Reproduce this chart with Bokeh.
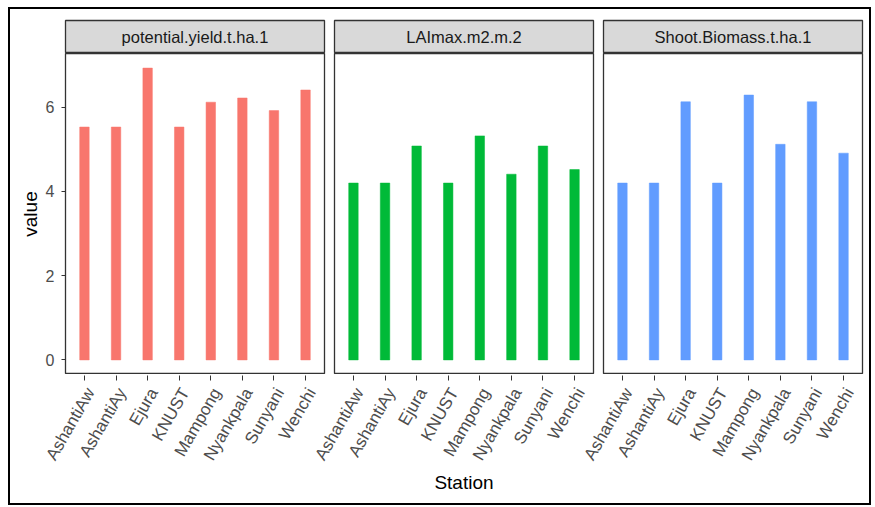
import math
from bokeh.plotting import figure
from bokeh.layouts import row, column
from bokeh.models import Range1d, FixedTicker, ColumnDataSource, Label, LinearAxis
from bokeh.embed import file_html
from bokeh.resources import INLINE

# Stations (x categories) shared by every facet
stations = ["AshantiAw", "AshantiAy", "Ejura", "KNUST", "Mampong", "Nyankpala", "Sunyani", "Wenchi"]

# Facet variables and their values per station
variables = ["potential.yield.t.ha.1", "LAImax.m2.m.2", "Shoot.Biomass.t.ha.1"]
potential_yield = [5.53, 5.53, 6.93, 5.53, 6.12, 6.22, 5.92, 6.41]
lai_max = [4.20, 4.20, 5.08, 4.20, 5.32, 4.41, 5.08, 4.52]
shoot_biomass = [4.20, 4.20, 6.13, 4.20, 6.29, 5.12, 6.13, 4.91]
y_ticks = [0, 2, 4, 6]

series = [potential_yield, lai_max, shoot_biomass]
colors = ["#F8766D", "#00BA38", "#619CFF"]

FONT = "Liberation Sans"
FRAME_W, FRAME_H, STRIP_H = 259, 321, 33
GAP = 10                       # white space between facets (px)
LEFT_PAD, RIGHT_PAD = 55, 7    # room for the y axis / right margin
TOP_PAD, BOTTOM_PAD = 11, 128
LABEL_NUDGE = 6                # rotated station names sit a little right of their tick

# shared y scale with ggplot-like 5% expansion
ymax = max(max(s) for s in series)
y_lo, y_hi = -0.05 * ymax, ymax * 1.05
xpos = list(range(1, len(stations) + 1))
x_lo, x_hi = 0.4, len(stations) + 0.6
px_per_unit = FRAME_W / (x_hi - x_lo)


def sides(k):
    left = LEFT_PAD if k == 0 else GAP // 2
    right = RIGHT_PAD if k == len(variables) - 1 else GAP // 2
    return left, right


def strip(title, k):
    left, right = sides(k)
    s = figure(width=left + FRAME_W + right, height=TOP_PAD + STRIP_H,
               x_range=Range1d(0, 1), y_range=Range1d(0, 1),
               output_backend="svg", toolbar_location=None,
               min_border_left=left, min_border_right=right,
               min_border_top=TOP_PAD, min_border_bottom=0)
    s.axis.visible = False
    s.grid.visible = False
    s.background_fill_color = "#D9D9D9"
    s.outline_line_color = "#333333"
    s.outline_line_width = 1.3
    s.add_layout(Label(x=0.5, y=0.5, text=title, text_align="center",
                       text_baseline="middle", text_font=FONT,
                       text_font_size="16.5px", text_color="#1A1A1A"))
    return s


def panel(values, color, k):
    left, right = sides(k)
    p = figure(width=left + FRAME_W + right, height=FRAME_H,
               x_range=Range1d(x_lo, x_hi), y_range=Range1d(y_lo, y_hi),
               output_backend="svg", toolbar_location=None,
               min_border_left=left, min_border_right=right,
               min_border_top=0, min_border_bottom=0)
    src = ColumnDataSource(dict(x=xpos, top=values))
    p.vbar(x="x", top="top", bottom=0, width=0.3, source=src,
           fill_color=color, line_color=color, line_width=0.5)
    p.grid.visible = False
    p.outline_line_color = "#333333"
    p.outline_line_width = 1.3
    p.xaxis.visible = False

    ya = p.yaxis[0]
    if k == 0:
        ya.ticker = FixedTicker(ticks=y_ticks)
        ya.major_label_text_font = FONT
        ya.major_label_text_font_size = "16px"
        ya.major_label_text_color = "#4D4D4D"
        ya.major_label_standoff = 7
        ya.axis_line_color = None
        ya.major_tick_line_color = "#333333"
        ya.major_tick_in = 0
        ya.major_tick_out = 4
        ya.minor_tick_line_color = None
        ya.axis_label = "value"
        ya.axis_label_text_font = FONT
        ya.axis_label_text_font_size = "19px"
        ya.axis_label_text_font_style = "normal"
        ya.axis_label_text_color = "#000000"
        ya.axis_label_standoff = 2
    else:
        ya.visible = False
    return p


# One shared x axis strip below all facets; each facet's stations sit under its frame.
total_px = len(variables) * FRAME_W + (len(variables) - 1) * GAP
axis_ticks, axis_labels = [], {}
for k in range(len(variables)):
    shift = k * (FRAME_W + GAP) / px_per_unit
    for i, name in zip(xpos, stations):
        t = round(i + shift, 6)
        axis_ticks.append(t)
        axis_labels[t] = name

x_end = x_lo + total_px / px_per_unit
nudge = LABEL_NUDGE / px_per_unit
ax = figure(width=LEFT_PAD + total_px + RIGHT_PAD, height=1 + BOTTOM_PAD,
            x_range=Range1d(x_lo, x_end), y_range=Range1d(0, 1),
            output_backend="svg", toolbar_location=None,
            min_border_left=LEFT_PAD, min_border_right=RIGHT_PAD,
            min_border_top=0, min_border_bottom=BOTTOM_PAD)
ax.extra_x_ranges = {"labels": Range1d(x_lo - nudge, x_end - nudge)}
ax.yaxis.visible = False
ax.grid.visible = False
ax.outline_line_color = None

# tick marks only (drawn as minor ticks, so no labels are produced)
tick_axis = ax.xaxis[0]
tick_axis.ticker = FixedTicker(ticks=[], minor_ticks=axis_ticks)
tick_axis.major_label_standoff = 0
tick_axis.axis_line_color = None
tick_axis.major_tick_line_color = None
tick_axis.minor_tick_line_color = "#333333"
tick_axis.minor_tick_in = 0
tick_axis.minor_tick_out = 5

# rotated station names and the axis title
label_axis = LinearAxis(x_range_name="labels", ticker=FixedTicker(ticks=axis_ticks))
label_axis.major_label_overrides = axis_labels
label_axis.major_label_orientation = math.pi / 3
label_axis.major_label_text_font = FONT
label_axis.major_label_text_font_size = "17px"
label_axis.major_label_text_color = "#4D4D4D"
label_axis.major_label_standoff = 9
label_axis.axis_line_color = None
label_axis.major_tick_line_color = None
label_axis.major_tick_in = 0
label_axis.major_tick_out = 0
label_axis.minor_tick_line_color = None
label_axis.axis_label = "Station"
label_axis.axis_label_text_font = FONT
label_axis.axis_label_text_font_size = "19px"
label_axis.axis_label_text_font_style = "normal"
label_axis.axis_label_text_color = "#000000"
label_axis.axis_label_standoff = 0
ax.add_layout(label_axis, "below")

strips = row(*[strip(n, k) for k, n in enumerate(variables)], spacing=0)
panels = row(*[panel(v, c, k) for k, (v, c) in enumerate(zip(series, colors))], spacing=0)

layout = column(strips, panels, ax, spacing=0, margin=(7, 0, 0, 8),
                styles={"border": "2px solid black"})

open("out.html", "w").write(file_html(layout, INLINE))
